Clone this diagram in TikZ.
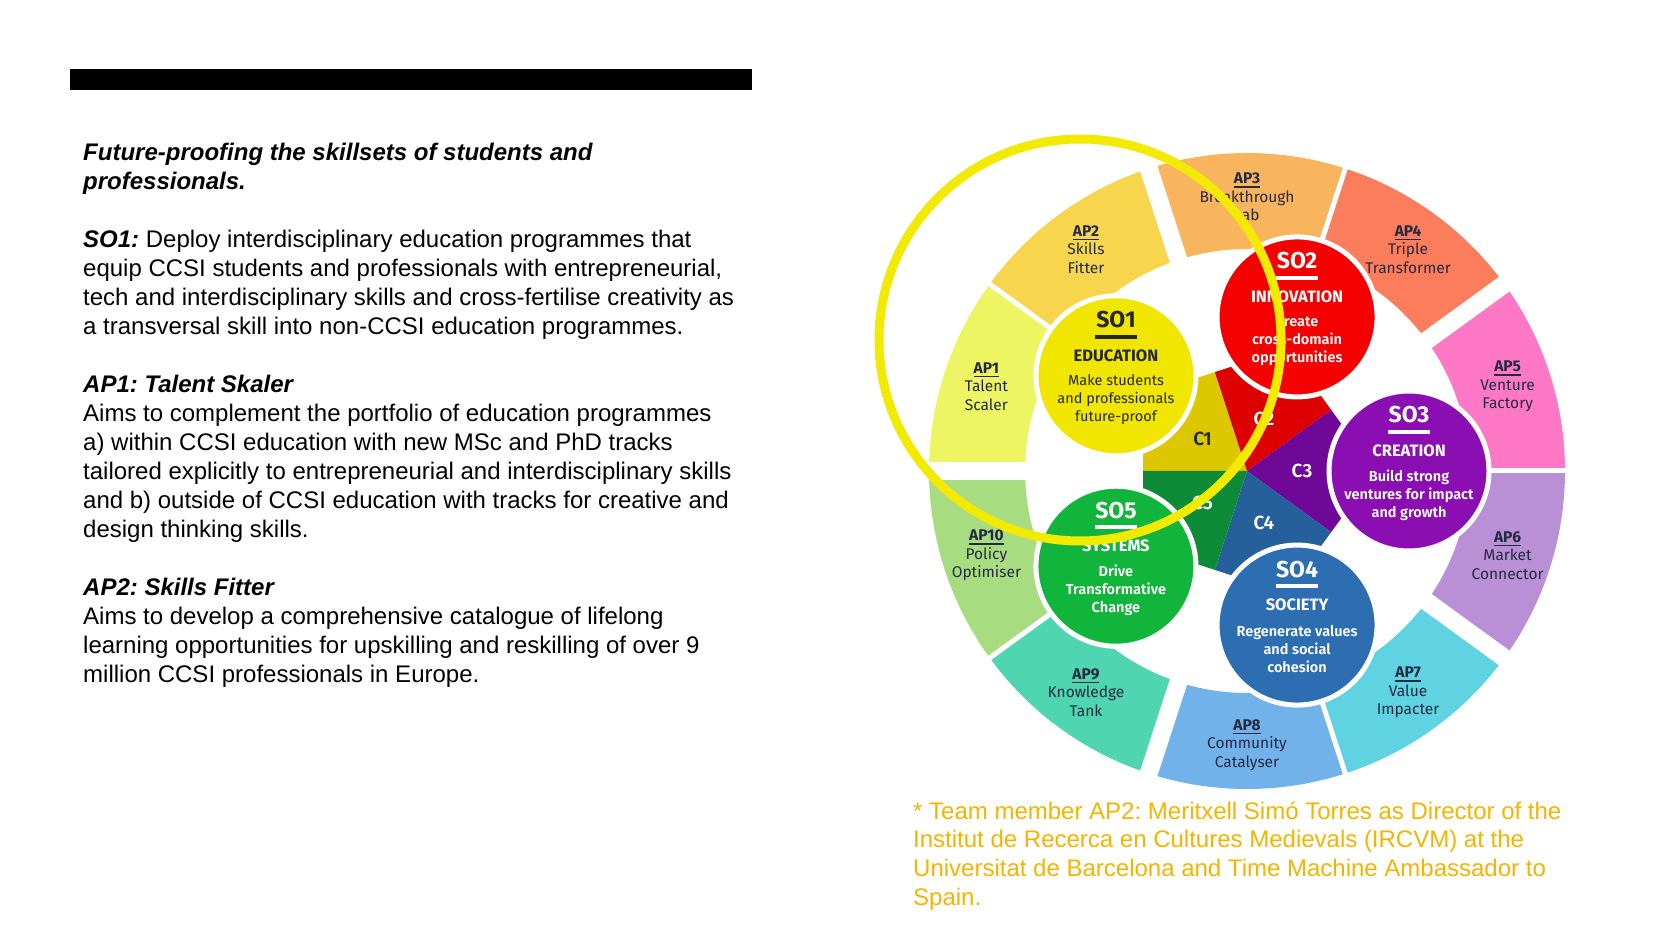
\documentclass[tikz,border=0pt]{standalone}
\usepackage{fontspec}
\setmainfont{Liberation Sans}
\newfontfamily\wheelfont{Fira Sans}
\newfontfamily\wheelsemi{Fira Sans SemiBold}
\frenchspacing
\usetikzlibrary{calc,positioning}

\definecolor{ap1}{HTML}{EEF562}
\definecolor{ap2}{HTML}{F7D54C}
\definecolor{ap3}{HTML}{F9B45E}
\definecolor{ap4}{HTML}{FB7D5B}
\definecolor{ap5}{HTML}{FF78C6}
\definecolor{ap6}{HTML}{B990D6}
\definecolor{ap7}{HTML}{5FD3E1}
\definecolor{ap8}{HTML}{71B2EB}
\definecolor{ap9}{HTML}{4FD6B0}
\definecolor{ap10}{HTML}{A8DC80}
\definecolor{so1}{HTML}{F0E600}
\definecolor{so2}{HTML}{F50000}
\definecolor{so3}{HTML}{8A0EB2}
\definecolor{so4}{HTML}{2D6EB3}
\definecolor{so5}{HTML}{12B53C}
\definecolor{c1}{HTML}{DCC700}
\definecolor{c2}{HTML}{DC0000}
\definecolor{c3}{HTML}{6F0798}
\definecolor{c4}{HTML}{26609C}
\definecolor{c5}{HTML}{0D8B36}
\definecolor{aptext}{HTML}{232A40}
\definecolor{sodark}{HTML}{262630}
\definecolor{ringyellow}{HTML}{F2EA00}
\definecolor{noteamber}{HTML}{F6B400}

\newsavebox\apbox
\newcommand{\apnum}[1]{\sbox\apbox{\bfseries #1}\rlap{\usebox\apbox}\rule[-4pt]{\wd\apbox}{1.6pt}}

\tikzset{
    seglabel/.style={font=\wheelfont\fontsize{15.5}{18.5}\selectfont, text=aptext, align=center, inner sep=0pt},
    socirc/.style={circle, minimum size=160pt, inner sep=0pt, draw=white, line width=5pt},
    sotitle/.style={font=\wheelfont\bfseries\fontsize{23}{23}\selectfont, inner sep=0pt},
    sosub/.style={font=\wheelfont\bfseries\fontsize{16.5}{16.5}\selectfont, inner sep=0pt},
    sobody/.style={font=#1\fontsize{14.5}{18}\selectfont, align=center, inner sep=0pt},
    clabel/.style={font=\wheelsemi\fontsize{19}{19}\selectfont, inner sep=0pt},
    bodytext/.style={anchor=base west, inner sep=0pt, font=\fontsize{24}{28.95}\selectfont}
}

\begin{document}
\begin{tikzpicture}[x=1pt,y=1pt]
    \fill[white] (0,0) rectangle (1654,930);
    \useasboundingbox (0,0) rectangle (1654,930);

    \fill[black] (70,861) rectangle (752,840);

    \node[bodytext] (title) at (83,769) {\parbox[t]{720pt}{\bfseries\itshape
        Future-proofing the skillsets of students and\\professionals.}};
    \node[bodytext] (so1text) at (83,682.15) {\parbox[t]{720pt}{\textbf{\textit{SO1:}}
        Deploy interdisciplinary education programmes that\\
        equip CCSI students and professionals with entrepreneurial,\\
        tech and interdisciplinary skills and cross-fertilise creativity as\\
        a transversal skill into non-CCSI education programmes.}};
    \node[bodytext] (ap1text) at (83,537.4) {\parbox[t]{720pt}{\textbf{\textit{AP1: Talent Skaler}}\\
        Aims to complement the portfolio of education programmes\\
        a) within CCSI education with new MSc and PhD tracks\\
        tailored explicitly to entrepreneurial and interdisciplinary skills\\
        and b) outside of CCSI education with tracks for creative and\\
        design thinking skills.}};
    \node[bodytext] (ap2text) at (83,334.75) {\parbox[t]{720pt}{\textbf{\textit{AP2: Skills Fitter}}\\
        Aims to develop a comprehensive catalogue of lifelong\\
        learning opportunities for upskilling and reskilling of over 9\\
        million CCSI professionals in Europe.}};

    \coordinate (wc) at (1247,459);

    \foreach \i/\col/\ttl/\lna/\lnb in {1/ap1/AP1/Talent/Scaler, 2/ap2/AP2/Skills/Fitter,
            3/ap3/AP3/Breakthrough/Lab, 4/ap4/AP4/Triple/Transformer, 5/ap5/AP5/Venture/Factory,
            6/ap6/AP6/Market/Connector, 7/ap7/AP7/Value/Impacter, 8/ap8/AP8/Community/Catalyser,
            9/ap9/AP9/Knowledge/Tank, 10/ap10/AP10/Policy/Optimiser}{
        \pgfmathsetmacro\aone{180-36*\i}
        \pgfmathsetmacro\atwo{\aone+36}
        \pgfmathsetmacro\amid{\aone+18}
        \fill[\col] (wc) ++(\aone:222pt) arc[start angle=\aone, end angle=\atwo, radius=222pt]
            -- ($(wc)+(\atwo:318pt)$) arc[start angle=\atwo, end angle=\aone, radius=318pt] -- cycle;
        \node[seglabel] (ap\i) at ($(wc)+(\amid:274pt)$) {\apnum{\ttl}\\\lna\\\lnb};
    }
    \foreach \a in {180,108,36,-36,-108}
        \draw[white, line width=18pt] ($(wc)+(\a:205pt)$) -- ($(wc)+(\a:330pt)$);
    \foreach \a in {144,72,0,-72,-144}
        \draw[white, line width=5pt] ($(wc)+(\a:205pt)$) -- ($(wc)+(\a:330pt)$);

    \foreach \va/\col/\tc [count=\n] in {144/c1/aptext, 72/c2/white, 0/c3/white, -72/c4/white, -144/c5/white}{
        \pgfmathsetmacro\ma{\va+36}
        \pgfmathsetmacro\mb{\va-36}
        \fill[\col] (wc) -- ($(wc)+(\ma:104pt)$) -- ($(wc)+(\va:128.5pt)$) -- ($(wc)+(\mb:104pt)$) -- cycle;
        \node[clabel, text=\tc] (c\n) at ($(wc)+(\va:55pt)$) {C\n};
    }

    \foreach \n/\a/\col/\tc/\bfnt/\subt/\bodyt in {1/144/so1/sodark/\wheelfont/EDUCATION/{Make students\\and professionals\\future-proof},
            2/72/so2/white/\wheelsemi/INNOVATION/{Create\\cross-domain\\opportunities},
            3/0/so3/white/\wheelsemi/CREATION/{Build strong\\ventures for impact\\and growth},
            4/-72/so4/white/\wheelsemi/SOCIETY/{Regenerate values\\and social\\cohesion},
            5/-144/so5/white/\wheelsemi/SYSTEMS/{Drive\\Transformative\\Change}}{
        \node[socirc, fill=\col] (so\n) at ($(wc)+(\a:162pt)$) {};
        \node[sotitle, text=\tc] (so\n-t) at ([yshift=56pt]so\n.center) {SO\n};
        \draw[line width=3.5pt, \tc] ([shift={(-21pt,39pt)}]so\n.center) -- ([shift={(21pt,39pt)}]so\n.center);
        \node[sosub, text=\tc] (so\n-s) at ([yshift=20pt]so\n.center) {\subt};
        \node[sobody=\bfnt, text=\tc] (so\n-b) at ([yshift=-24pt]so\n.center) {\bodyt};
    }

    \draw[ringyellow, line width=9pt] (1080,590) circle[radius=201pt];

    \node[bodytext, text=noteamber] (note) at (913,111) {\parbox[t]{740pt}{
        * Team member AP2: Meritxell Simó Torres as Director of the\\
        Institut de Recerca en Cultures Medievals (IRCVM) at the\\
        Universitat de Barcelona and Time Machine Ambassador to\\
        Spain.}};
\end{tikzpicture}
\end{document}
